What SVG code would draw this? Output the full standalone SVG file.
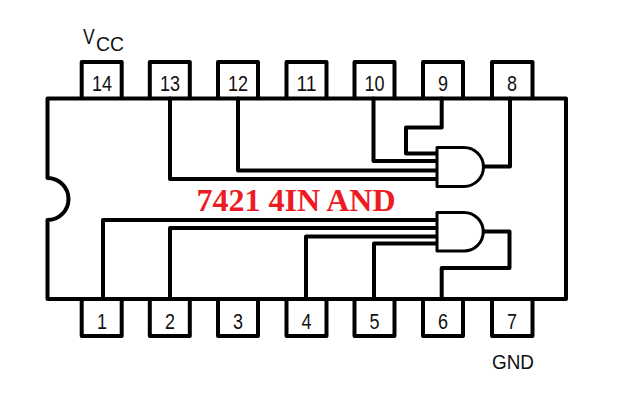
<svg xmlns="http://www.w3.org/2000/svg" width="620" height="402" viewBox="0 0 620 402">
<style>
.l{fill:none;stroke:#000;stroke-width:4;stroke-linejoin:round;stroke-linecap:round}
.g{fill:#fff;stroke:#000;stroke-width:3;stroke-linejoin:round}
.p{fill:#fff;stroke:#000;stroke-width:4;stroke-linejoin:round}
text{font-family:"Liberation Sans",Arial,sans-serif;font-size:22.500px;fill:#111;text-anchor:middle}
.t{font-family:"Liberation Serif","Times New Roman",serif;font-size:32px;font-weight:bold;fill:#ed1c24}
</style>
<rect width="620" height="402" fill="#fff"/>
<g id="pins-top">
<g id="pin14"><path class="p" d="M81.7 98V62H121.7V98"/><text x="102" y="91" textLength="20" lengthAdjust="spacingAndGlyphs">14</text></g>
<g id="pin13"><path class="p" d="M149.800 98V62H189.800V98"/><text x="170" y="91" textLength="20" lengthAdjust="spacingAndGlyphs">13</text></g>
<g id="pin12"><path class="p" d="M218 98V62H258V98"/><text x="238" y="91" textLength="20" lengthAdjust="spacingAndGlyphs">12</text></g>
<g id="pin11"><path class="p" d="M286.500 98V62H326.500V98"/><text x="306.500" y="91" textLength="20" lengthAdjust="spacingAndGlyphs">11</text></g>
<g id="pin10"><path class="p" d="M354.500 98V62H394.500V98"/><text x="374.500" y="91" textLength="20" lengthAdjust="spacingAndGlyphs">10</text></g>
<g id="pin9"><path class="p" d="M423 98V62H463V98"/><text x="443" y="91" textLength="10" lengthAdjust="spacingAndGlyphs">9</text></g>
<g id="pin8"><path class="p" d="M492 98V62H532.500V98"/><text x="512" y="91" textLength="10" lengthAdjust="spacingAndGlyphs">8</text></g>
</g>
<g id="pins-bottom">
<g id="pin1"><path class="p" d="M81.700 299V336H121.700V299"/><text x="102" y="329" textLength="10" lengthAdjust="spacingAndGlyphs">1</text></g>
<g id="pin2"><path class="p" d="M149.800 299V336H189.800V299"/><text x="170" y="329" textLength="10" lengthAdjust="spacingAndGlyphs">2</text></g>
<g id="pin3"><path class="p" d="M218 299V336H258V299"/><text x="238" y="329" textLength="10" lengthAdjust="spacingAndGlyphs">3</text></g>
<g id="pin4"><path class="p" d="M286.500 299V336H326.500V299"/><text x="306.500" y="329" textLength="10" lengthAdjust="spacingAndGlyphs">4</text></g>
<g id="pin5"><path class="p" d="M354.500 299V336H394.500V299"/><text x="374.500" y="329" textLength="10" lengthAdjust="spacingAndGlyphs">5</text></g>
<g id="pin6"><path class="p" d="M423 299V336H463V299"/><text x="443" y="329" textLength="10" lengthAdjust="spacingAndGlyphs">6</text></g>
<g id="pin7"><path class="p" d="M492 299V336H532.500V299"/><text x="512" y="329" textLength="10" lengthAdjust="spacingAndGlyphs">7</text></g>
</g>
<g id="body"><path class="l" d="M47.500 178V98.500H566V299H47.500V220A21 21 0 0 0 47.500 178Z"/></g>
<g id="connectors">
<path class="l" d="M170 98.500V179H437"/>
<path class="l" d="M238 98.500V170.500H437"/>
<path class="l" d="M373.500 98.500V161H437"/>
<path class="l" d="M441.700 98.500V127.500H406V153.500H437"/>
<path class="l" d="M483 166.500H510V98.500"/>
<path class="l" d="M103 299V220H437"/>
<path class="l" d="M170 299V228H437"/>
<path class="l" d="M306 299V236.500H437"/>
<path class="l" d="M374 299V243.500H437"/>
<path class="l" d="M483 231.500H509.500V268H441.700V299"/>
</g>
<g id="gate1"><path class="g" d="M437 147.500H464A19.500 19.500 0 0 1 464 186.500H437Z"/></g>
<g id="gate2"><path class="g" d="M437 212.500H464A19.250 19.250 0 0 1 464 251H437Z"/></g>
<g id="labels">
<text class="t" x="296" y="211">7421 4IN AND</text>
<text transform="translate(88.800 44) scale(.78 1)">V</text>
<text x="110" y="50.500" style="font-size:20px" textLength="28" lengthAdjust="spacingAndGlyphs">CC</text>
<text x="513" y="369" style="font-size:21px" textLength="42" lengthAdjust="spacingAndGlyphs">GND</text>
</g>
</svg>
